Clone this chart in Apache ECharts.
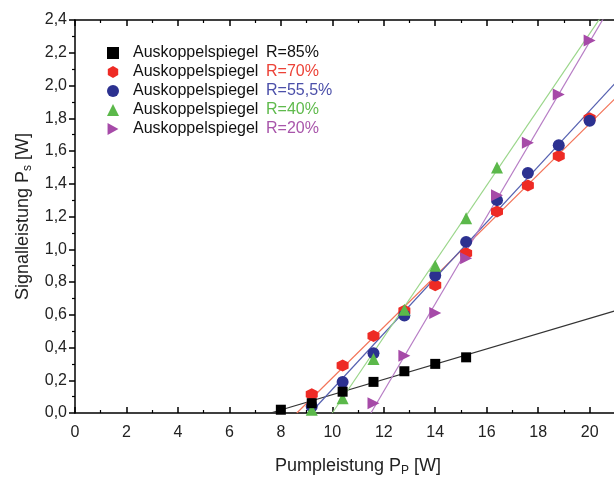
<!DOCTYPE html>
<html>
<head>
<meta charset="utf-8">
<script src="https://cdn.jsdelivr.net/npm/echarts@6/dist/echarts.min.js"></script>
<style>
  html, body { margin: 0; padding: 0; background: #fff; overflow: hidden; }
  /* the plot runs on past the right edge of the page */
  #chart { width: 653px; height: 482px; }
</style>
</head>
<body>
<div id="chart"></div>
<script>
// Pump power (W) at which the output power was measured
const pumpR85 = [8.0, 9.2, 10.4, 11.6, 12.8, 14.0, 15.2];
const pumpR70 = [9.2, 10.4, 11.6, 12.8, 14.0, 15.2, 16.4, 17.6, 18.8, 20.0];
const pumpR555 = [9.2, 10.4, 11.6, 12.8, 14.0, 15.2, 16.4, 17.6, 18.8, 20.0];
const pumpR40 = [9.2, 10.4, 11.6, 12.8, 14.0, 15.2, 16.4];
const pumpR20 = [11.6, 12.8, 14.0, 15.2, 16.4, 17.6, 18.8, 20.0];

// Signal power (W) for each output coupler
const sigR85 = [0.02, 0.06, 0.13, 0.19, 0.255, 0.30, 0.34];
const sigR70 = [0.115, 0.29, 0.47, 0.625, 0.78, 0.975, 1.23, 1.39, 1.57, 1.80];
const sigR555 = [0.04, 0.19, 0.365, 0.595, 0.84, 1.045, 1.30, 1.465, 1.635, 1.785];
const sigR40 = [0.02, 0.09, 0.33, 0.63, 0.90, 1.19, 1.50];
const sigR20 = [0.06, 0.35, 0.61, 0.945, 1.33, 1.65, 1.945, 2.275];

// Linear fit lines: [start, end] as [pump, signal]
const fitR85 = [[7.6, 0], [22, 0.671]];
const fitR70 = [[8.62, 0], [22, 2.077]];
const fitR555 = [[9.15, 0], [22, 2.186]];
const fitR40 = [[10.0, 0], [22, 2.78]];
const fitR20 = [[11.5, 0], [22, 2.80]];

// Legend labels
const couplerLabel = 'Auskoppelspiegel';
const reflectivities = ['R=85%', 'R=70%', 'R=55,5%', 'R=40%', 'R=20%'];

// Axis ticks
const xTicks = { min: 0, max: 22, interval: 2 };
const yTicks = { min: 0, max: 2.4, interval: 0.2 };

const FONT = '"Liberation Sans", Arial, sans-serif';
const markColors = ['#000000', '#ee2b25', '#2c3190', '#5bb84a', '#a64aa8'];
const lineColors = ['#333333', '#f37459', '#5560b0', '#9ad68a', '#b77dc5'];
const labelColors = ['#111111', '#ec4237', '#4b4fa9', '#5fba4c', '#a855aa'];
const hexagon = 'path://M0,-10L8.66,-5L8.66,5L0,10L-8.66,5L-8.66,-5Z';
const rightTriangle = 'path://M0,0L10,5.5L0,11Z';
const symbols = ['rect', hexagon, 'circle', 'triangle', rightTriangle];
const symbolSizes = [10, 12, 12, 12, 12];

const pumps = [pumpR85, pumpR70, pumpR555, pumpR40, pumpR20];
const sigs = [sigR85, sigR70, sigR555, sigR40, sigR20];
const fits = [fitR85, fitR70, fitR555, fitR40, fitR20];
const names = reflectivities.map(r => couplerLabel + ' ' + r);

const zip = (xs, ys) => xs.map((x, i) => [x, ys[i]]);

const fitSeries = fits.map((f, i) => ({
  type: 'line',
  name: 'fit' + i,
  data: f,
  symbol: 'none',
  clip: true,
  silent: true,
  lineStyle: { color: lineColors[i], width: 1.2 },
  z: 1
}));

// marker drawing order: black squares on top
const drawOrder = [1, 2, 3, 4, 0];
const markSeries = drawOrder.map(i => ({
  type: 'scatter',
  name: names[i],
  data: zip(pumps[i], sigs[i]),
  symbol: symbols[i],
  symbolSize: symbolSizes[i],
  itemStyle: { color: markColors[i], opacity: 1 },
  z: 3 + drawOrder.indexOf(i)
}));

const rich = { a: { width: 133, fontSize: 16, color: '#111', fontFamily: FONT } };
labelColors.forEach((c, i) => {
  rich['r' + i] = { fontSize: 16, color: c, fontFamily: FONT };
});

const axisLineStyle = { color: '#000', width: 1.5 };

const chart = echarts.init(document.getElementById('chart'), null, { renderer: 'canvas' });
chart.setOption({
  animation: false,
  backgroundColor: '#ffffff',
  grid: { left: 75, top: 20, bottom: 61, right: 1, containLabel: false },
  legend: {
    orient: 'vertical',
    left: 102,
    top: 40,
    itemWidth: 12,
    itemHeight: 12,
    itemGap: 3,
    data: names.map(n => ({ name: n })),
    formatter: n => {
      const i = names.indexOf(n);
      return '{a|' + couplerLabel + '}{r' + i + '|' + reflectivities[i] + '}';
    },
    textStyle: { rich: rich, padding: [0, 0, 0, 9] }
  },
  xAxis: [{
    type: 'value',
    position: 'bottom',
    min: xTicks.min, max: xTicks.max, interval: xTicks.interval,
    name: 'Pumpleistung P{sub|P} [W]',
    nameLocation: 'middle',
    nameGap: 42,
    nameTextStyle: {
      fontSize: 18, color: '#222', fontFamily: FONT,
      rich: { sub: { fontSize: 12, color: '#222', fontFamily: FONT, padding: [10, 0, 0, 0] } }
    },
    axisLine: { show: true, onZero: false, lineStyle: axisLineStyle },
    axisTick: { show: true, inside: true, length: 6, lineStyle: { color: '#000', width: 1.5 } },
    minorTick: { show: true, splitNumber: 2, length: 3, lineStyle: { color: '#000', width: 1.2 } },
    axisLabel: { fontSize: 16, color: '#222', fontFamily: FONT, margin: 12 },
    splitLine: { show: false }
  }, {
    type: 'value',
    position: 'top',
    min: xTicks.min, max: xTicks.max, interval: xTicks.interval,
    axisLine: { show: true, onZero: false, lineStyle: axisLineStyle },
    axisTick: { show: true, inside: true, length: 6, lineStyle: { color: '#000', width: 1.5 } },
    minorTick: { show: true, splitNumber: 2, length: 3, lineStyle: { color: '#000', width: 1.2 } },
    axisLabel: { show: false },
    splitLine: { show: false }
  }],
  yAxis: [{
    type: 'value',
    min: yTicks.min, max: yTicks.max, interval: yTicks.interval,
    name: 'Signalleistung P{sub|s} [W]',
    nameLocation: 'middle',
    nameGap: 40,
    nameTextStyle: {
      fontSize: 18, color: '#222', fontFamily: FONT,
      rich: { sub: { fontSize: 12, color: '#222', fontFamily: FONT, padding: [10, 0, 0, 0] } }
    },
    axisLine: { show: true, onZero: false, lineStyle: axisLineStyle },
    axisTick: { show: true, inside: false, length: 6, lineStyle: { color: '#000', width: 1.5 } },
    minorTick: { show: true, splitNumber: 2, length: 3, lineStyle: { color: '#000', width: 1.2 } },
    axisLabel: {
      fontSize: 16, color: '#222', fontFamily: FONT, margin: 8,
      formatter: v => v.toFixed(1).replace('.', ',')
    },
    splitLine: { show: false }
  }],
  series: fitSeries.concat(markSeries)
});
</script>
</body>
</html>
